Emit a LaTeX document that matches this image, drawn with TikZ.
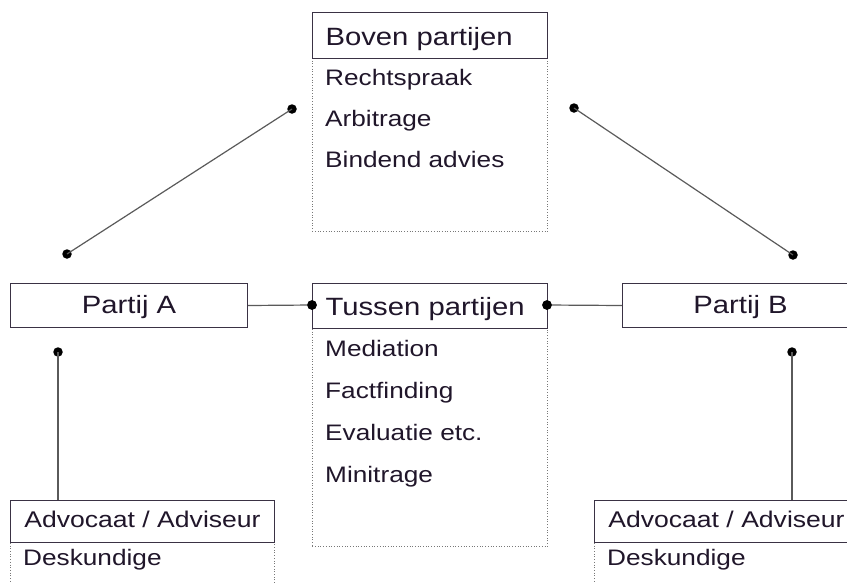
\documentclass[tikz,border=0pt]{standalone}
\usepackage{fontspec}
\setmainfont{Liberation Sans}[FakeStretch=1.17]
\definecolor{textc}{RGB}{32,22,42}
\definecolor{boxc}{RGB}{58,50,68}
\definecolor{linec}{RGB}{90,90,90}
\definecolor{dotc}{RGB}{120,120,120}
\begin{document}
\begin{tikzpicture}[x=1pt,y=-1pt,
  every node/.style={text=textc},
  hdr/.style={draw=boxc, line width=1pt, fill=white, anchor=north west, inner sep=0pt,
    font=\fontsize{25}{30}\selectfont},
  hdrsmall/.style={hdr, font=\fontsize{22.7}{27}\selectfont},
  bodybox/.style={draw=dotc, dotted, line width=0.7pt, anchor=north west, inner sep=0pt},
  item/.style={anchor=base west, inner sep=0pt, font=\fontsize{22.4}{27}\selectfont},
  conn/.style={draw=linec, line width=1.2pt},
  dot/.style={circle, fill=black, inner sep=0pt, minimum size=9.5pt}]
\useasboundingbox (0,0) rectangle (847,582);
\clip (0,0) rectangle (847,582);

% Boven partijen
\node[bodybox, minimum width=235pt, minimum height=173pt] (bovenbody) at (312,58) {};
\node[hdr, minimum width=235pt, minimum height=46pt, text width=209pt, align=left,
  text height=33pt, text depth=13pt, inner xsep=13pt] (boven) at (312,12) {Boven partijen};
\node[item] (b1) at (325,85) {Rechtspraak};
\node[item] (b2) at (325,126) {Arbitrage};
\node[item] (b3) at (325,167) {Bindend advies};

% Tussen partijen
\node[bodybox, minimum width=235pt, minimum height=218pt] (tussenbody) at (312,328) {};
\node[hdr, minimum width=235pt, minimum height=45pt, text width=209pt, align=left,
  text height=32pt, text depth=13pt, inner xsep=13pt] (tussen) at (312,283) {Tussen partijen};
\node[item] (t1) at (325,356) {Mediation};
\node[item] (t2) at (325,398) {Factfinding};
\node[item] (t3) at (325,440) {Evaluatie etc.};
\node[item] (t4) at (325,482) {Minitrage};

% Partij A / B
\node[hdr, minimum width=237pt, minimum height=44pt, text height=30pt, text depth=14pt] (pa) at (10,283) {Partij A};
\node[hdr, minimum width=236pt, minimum height=44pt, text height=30pt, text depth=14pt] (pb) at (622,283) {Partij B};

% Advocaat boxes
\node[bodybox, minimum width=264pt, minimum height=60pt] (advAbody) at (10,542) {};
\node[hdrsmall, minimum width=264pt, minimum height=42pt, text height=27pt, text depth=15pt] (advA) at (10,500) {Advocaat / Adviseur};
\node[item] (dA) at (23,565) {Deskundige};
\node[bodybox, minimum width=264pt, minimum height=60pt] (advBbody) at (594,542) {};
\node[hdrsmall, minimum width=264pt, minimum height=42pt, text height=27pt, text depth=15pt] (advB) at (594,500) {Advocaat / Adviseur};
\node[item] (dB) at (607,565) {Deskundige};

% dots
\node[dot] (d1) at (67,254) {};
\node[dot] (d2) at (292,109) {};
\node[dot] (d3) at (574,108) {};
\node[dot] (d4) at (793,255) {};
\node[dot] (d5) at (312,305) {};
\node[dot] (d6) at (547,305) {};
\node[dot] (d7) at (58,352) {};
\node[dot] (d8) at (792,352) {};

% connectors
\draw[conn] (d1.center) -- (d2.center);
\draw[conn] (d3.center) -- (d4.center);
\draw[conn] (pa.east) -- (d5.center);
\draw[conn] (d6.center) -- (pb.west);
\draw[conn] (d7.center) -- (d7.center |- advA.north);
\draw[conn] (d8.center) -- (d8.center |- advB.north);
\node[dot] at (d5) {};
\node[dot] at (d6) {};
\end{tikzpicture}
\end{document}
